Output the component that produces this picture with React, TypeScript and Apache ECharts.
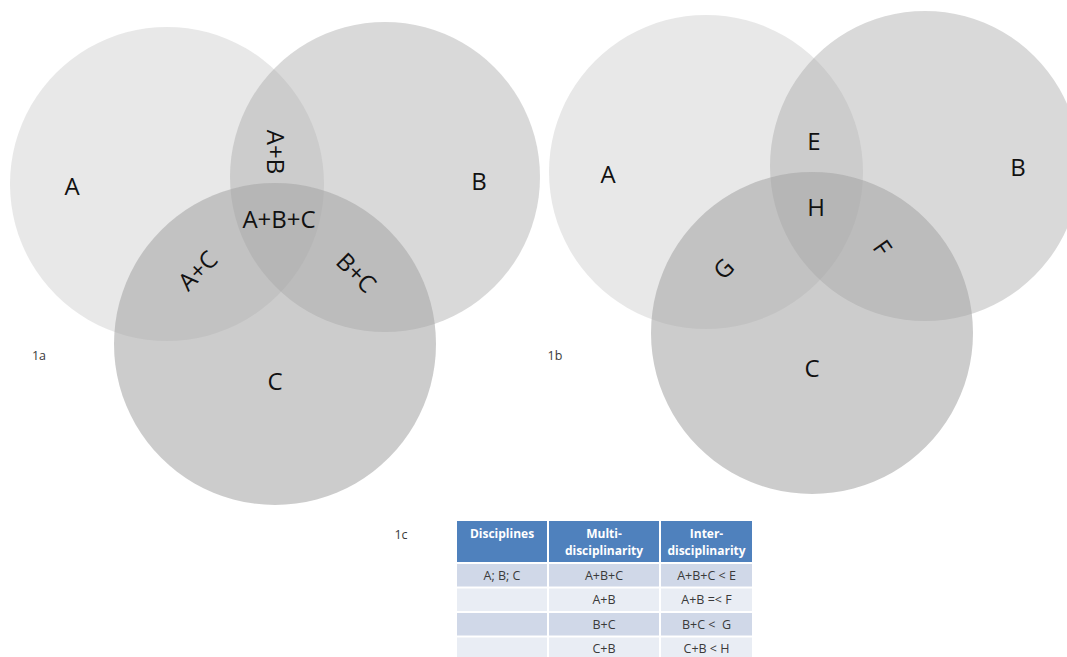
import React, { useEffect, useRef } from "react";
import * as echarts from "echarts";

// ---- data ----
// Venn circles: [x, y, radius] in diagram units
const circleNames = ["A", "B", "C"];
const circles1a = [
  [167, 184, 157],
  [385, 177, 155],
  [275, 344, 161],
];
const circles1b = [
  [706, 172, 157],
  [925, 166, 155],
  [812, 333, 161],
];
// labels: [x, y, text, rotationDeg]
const labels1a: [number, number, string, number][] = [
  [72, 185, "A", 0],
  [479, 180, "B", 0],
  [276, 152, "A+B", -90],
  [279, 218, "A+B+C", 0],
  [197, 270, "A+C", 45],
  [357, 272, "B+C", -45],
  [275, 380, "C", 0],
];
const labels1b: [number, number, string, number][] = [
  [608, 173, "A", 0],
  [1018, 166, "B", 0],
  [814, 140, "E", 0],
  [816, 206, "H", 0],
  [723, 268, "G", 45],
  [883, 247, "F", -55],
  [812, 367, "C", 0],
];
const panelLabels: [number, number, string][] = [
  [39, 355, "1a"],
  [555, 355, "1b"],
  [401, 534, "1c"],
];
const tableHeader = ["Disciplines", "Multi-\ndisciplinarity", "Inter-\ndisciplinarity"];
const tableRows = [
  ["A; B; C", "A+B+C", "A+B+C < E"],
  ["", "A+B", "A+B =< F"],
  ["", "B+C", "B+C <  G"],
  ["", "C+B", "C+B < H"],
];

// ---- layout / style ----
const W = 1067;
const H = 657;
const circleFills = [
  "rgba(166,166,166,0.26)",
  "rgba(166,166,166,0.43)",
  "rgba(166,166,166,0.57)",
];
const colEdges = [456, 548, 660, 753];
const rowEdges = [520, 563, 587.5, 612, 636.5, 661];
const FONT = "'Open Sans', 'Noto Sans', sans-serif";

export default function App() {
  const ref = useRef<HTMLDivElement>(null);
  useEffect(() => {
    if (!ref.current) return;
    const chart = echarts.init(ref.current, undefined, { renderer: "svg" });

    const circleData = [...circles1a, ...circles1b].map((c, i) => ({
      value: c,
      name: circleNames[i % 3],
    }));
    const labelData = [...labels1a, ...labels1b].map((l) => ({ value: [l[0], l[1], l[3]], name: l[2] }));
    const panelData = panelLabels.map((p) => ({ value: [p[0], p[1]], name: p[2] }));

    const cellData: any[] = [];
    tableHeader.forEach((t, c) => cellData.push({ value: [c, 0], name: t }));
    tableRows.forEach((row, r) => row.forEach((t, c) => cellData.push({ value: [c, r + 1], name: t })));

    const option: any = {
      animation: false,
      grid: { left: 0, right: 0, top: 0, bottom: 0 },
      xAxis: { type: "value", min: 0, max: W, show: false },
      yAxis: { type: "value", min: 0, max: H, inverse: true, show: false },
      series: [
        {
          type: "custom",
          data: circleData,
          clip: false,
          renderItem: (params: any, api: any) => {
            const p = api.coord([api.value(0), api.value(1)]);
            const r = api.size([api.value(2), 0])[0];
            const idx = params.dataIndex % 3;
            return {
              type: "circle",
              shape: { cx: p[0], cy: p[1], r },
              style: { fill: circleFills[idx] },
            };
          },
          z: 1,
        },
        {
          type: "custom",
          data: labelData,
          renderItem: (params: any, api: any) => {
            const p = api.coord([api.value(0), api.value(1)]);
            const item = labelData[params.dataIndex];
            return {
              type: "text",
              x: p[0],
              y: p[1],
              rotation: (api.value(2) * Math.PI) / 180,
              style: {
                text: item.name,
                fontSize: 24,
                fontFamily: FONT,
                fill: "#111",
                align: "center",
                verticalAlign: "middle",
              },
            };
          },
          z: 3,
        },
        {
          type: "custom",
          data: panelData,
          renderItem: (params: any, api: any) => {
            const p = api.coord([api.value(0), api.value(1)]);
            return {
              type: "text",
              x: p[0],
              y: p[1],
              style: {
                text: panelData[params.dataIndex].name,
                fontSize: 12.5,
                fontFamily: FONT,
                fill: "#3a3a3a",
                align: "center",
                verticalAlign: "middle",
              },
            };
          },
          z: 3,
        },
        {
          type: "custom",
          data: cellData,
          renderItem: (params: any, api: any) => {
            const c = api.value(0);
            const r = api.value(1);
            const tl = api.coord([colEdges[c], rowEdges[r]]);
            const br = api.coord([colEdges[c + 1], rowEdges[r + 1]]);
            const x0 = tl[0] + 1;
            const x1 = br[0] - 1;
            const y0 = tl[1] + 1;
            const y1 = br[1] - 1;
            const header = r === 0;
            const fill = header ? "#4F81BD" : r % 2 === 1 ? "#D0D8E8" : "#E9EDF4";
            const text = cellData[params.dataIndex].name;
            return {
              type: "group",
              children: [
                { type: "rect", shape: { x: x0, y: y0, width: x1 - x0, height: y1 - y0 }, style: { fill } },
                {
                  type: "text",
                  x: (x0 + x1) / 2,
                  y: header ? y0 + 4 : (y0 + y1) / 2,
                  style: {
                    text,
                    fontSize: header ? 12 : 12.5,
                    fontWeight: header ? "bold" : "normal",
                    fontFamily: FONT,
                    lineHeight: 17,
                    fill: header ? "#ffffff" : "#3a3a3a",
                    align: "center",
                    verticalAlign: header ? "top" : "middle",
                  },
                },
              ],
            };
          },
          z: 2,
        },
      ],
    };
    chart.setOption(option);
    return () => chart.dispose();
  }, []);
  return (
    <div
      ref={ref}
      style={{ position: "absolute", left: 0, top: 0, width: W, height: H, background: "#fff" }}
    />
  );
}
